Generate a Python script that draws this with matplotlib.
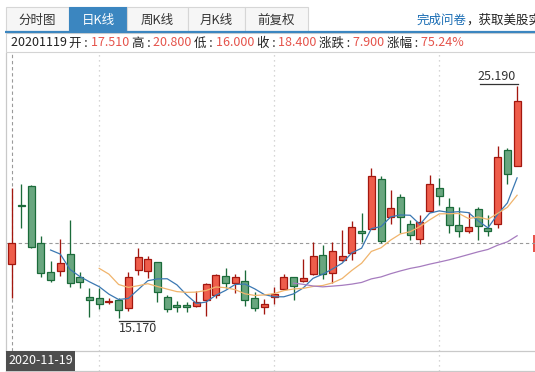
import matplotlib
matplotlib.use("Agg")
import matplotlib.pyplot as plt
from matplotlib.patches import Rectangle
from matplotlib.transforms import offset_copy
import pandas as pd

plt.rcParams['font.family'] = ['Noto Sans CJK SC', 'DejaVu Sans']

# ---- data (daily K, starting 2020-11-19) ----
first_date = "2020-11-19"
opens = [17.51, 20.05, 20.87, 18.39, 17.13, 17.19, 17.91, 16.94, 16.05, 16.01,
         15.84, 15.93, 15.58, 17.23, 17.20, 17.57, 16.05, 15.71, 15.71, 15.68,
         15.93, 16.13, 16.99, 16.66, 16.74, 16.00, 15.62, 16.06, 16.40, 16.92,
         16.74, 17.08, 17.90, 17.09, 17.65, 17.97, 18.93, 18.99, 21.16, 19.51,
         20.38, 19.21, 18.56, 19.77, 20.77, 19.94, 19.17, 18.92, 19.86, 19.04,
         19.21, 22.42, 21.72]
highs = [20.80, 20.95, 20.90, 18.70, 17.62, 18.56, 19.39, 17.16, 16.44, 16.44,
         16.03, 16.01, 17.15, 18.20, 17.85, 17.58, 16.15, 15.90, 15.84, 16.34,
         16.69, 17.07, 17.31, 17.05, 17.22, 16.26, 15.96, 16.51, 17.05, 16.93,
         17.70, 18.46, 18.31, 18.46, 18.96, 19.36, 19.70, 21.63, 21.28, 20.69,
         20.51, 19.39, 19.61, 21.33, 21.21, 20.33, 19.96, 19.75, 19.94, 19.61,
         22.58, 22.52, 25.19]
lows = [16.00, 19.05, 18.18, 16.92, 16.71, 16.97, 16.48, 16.47, 15.20, 15.53,
        15.76, 15.17, 15.45, 17.02, 16.89, 15.84, 15.43, 15.43, 15.43, 15.65,
        15.24, 16.04, 16.45, 16.22, 15.68, 15.48, 15.32, 15.76, 16.37, 15.93,
        16.73, 17.03, 16.83, 16.66, 17.64, 17.66, 18.46, 18.99, 18.39, 19.22,
        18.85, 18.53, 18.35, 19.75, 20.04, 18.82, 18.66, 18.82, 18.53, 18.70,
        19.04, 20.96, 21.72]
closes = [18.40, 19.98, 18.21, 17.09, 16.80, 17.52, 16.66, 16.70, 15.93, 15.75,
          15.90, 15.50, 16.94, 17.81, 17.69, 16.30, 15.53, 15.62, 15.62, 15.85,
          16.61, 17.00, 16.66, 16.92, 15.93, 15.58, 15.75, 16.19, 16.92, 16.56,
          16.87, 17.82, 17.08, 18.05, 17.82, 19.11, 18.82, 21.31, 18.49, 19.93,
          19.52, 18.75, 19.32, 20.94, 20.42, 19.18, 18.92, 19.11, 19.14, 18.92,
          22.13, 21.37, 24.53]
ma_windows = [5, 10, 30]
grid_idx = [9, 27, 44]          # month grid lines
cross_idx = 0                   # crosshair on first bar

tab_labels = ["分时图", "日K线", "周K线", "月K线", "前复权"]
active_tab = 1
info_date = "20201119"
info_fields = ["开", "高", "低", "收", "涨跌", "涨幅"]
info_values = ["17.510", "20.800", "16.000", "18.400", "7.900", "75.24%"]
survey_link = "完成问卷"
survey_rest = "，获取美股实"

# ---- colours ----
UP_FACE, UP_EDGE = "#ee5d4b", "#a3170f"
DN_FACE, DN_EDGE = "#69a67f", "#1b6b3a"
MA_COLORS = ["#3b78b2", "#f0b46c", "#a67cbf"]
BLUE = "#3b86c0"
RED_TXT = "#e5534b"
GRID = "#c9c9c9"

W, H = 535, 372
fig = plt.figure(figsize=(W / 100, H / 100), dpi=100)

# overlay in pixel coordinates for header widgets
ov = fig.add_axes([0, 0, 1, 1], zorder=0)
ov.set_xlim(0, W)
ov.set_ylim(H, 0)
ov.axis("off")

# tabs
tab_edges = [6, 69, 127.3, 187.7, 245, 307.7]
for k, lab in enumerate(tab_labels):
    x0, x1 = tab_edges[k], tab_edges[k + 1]
    act = k == active_tab
    ov.add_patch(Rectangle((x0, 6.5), x1 - x0, 25.5,
                           facecolor=BLUE if act else "#f6f6f6",
                           edgecolor=BLUE if act else "#d6d6d6", lw=0.8))
    ov.text((x0 + x1) / 2, 20.5, lab, ha="center", va="center", fontsize=9,
            color="white" if act else "#333333")
ov.plot([5, W], [32.3, 32.3], color=BLUE, lw=1.6, solid_capstyle="butt")

t1 = ov.text(416.5, 19.8, survey_link, ha="left", va="center", fontsize=9,
             color="#1a6db4")
fig.canvas.draw()
r = fig.canvas.get_renderer()
ov.text(416.5 + t1.get_window_extent(r).width, 19.8, survey_rest,
        ha="left", va="center", fontsize=9, color="#222222")

# info row
ov.add_patch(Rectangle((5.7, 33.3), W, 19, facecolor="white",
                       edgecolor="#d4d4d4", lw=0.8))
pieces = [(info_date + " ", "#222222")]
for f, v in zip(info_fields, info_values):
    pieces.append((f + " : ", "#222222"))
    pieces.append((v + " ", RED_TXT))
x = 10.7
for s, col in pieces:
    t = ov.text(x, 43, s, ha="left", va="center", fontsize=9, color=col)
    x += t.get_window_extent(r).width

# crosshair price tag stub at right edge
ov.add_patch(Rectangle((532.5, 235), 4, 17, facecolor="#e8534a", lw=0))

# ---- main K-line axes ----
px_left, px_top, px_bot = 5.7, 53, 351
ax = fig.add_axes([px_left / W, (H - px_bot) / H, (W - px_left) / W,
                   (px_bot - px_top) / H], zorder=1)
ax.patch.set_visible(False)
x_lo, x_hi = -0.617, 53.84
ax.set_xlim(x_lo, x_hi)
ax.set_ylim(13.729, 26.618)
for side in ["top", "right"]:
    ax.spines[side].set_visible(False)
for side in ["left", "bottom"]:
    ax.spines[side].set_color(GRID)
    ax.spines[side].set_linewidth(0.9)
ax.set_xticks([])
ax.set_yticks([])

for g in grid_idx:
    ax.axvline(g, color=GRID, lw=0.9, ls=(0, (1, 3)), zorder=0)
ax.axvline(cross_idx, color="#9a9a9a", lw=0.8, ls=(0, (3, 2.5)), zorder=0)
ax.axhline(closes[cross_idx], color="#9a9a9a", lw=0.8, ls=(0, (3, 2.5)),
           zorder=0)

bw = 0.72
for i, (o, h, l, c) in enumerate(zip(opens, highs, lows, closes)):
    up = c >= o
    face = UP_FACE if up else DN_FACE
    edge = UP_EDGE if up else DN_EDGE
    ax.vlines(i, l, h, color=edge, lw=0.95, zorder=2)
    ax.add_patch(Rectangle((i - bw / 2, min(o, c)), bw,
                           max(abs(c - o), 0.03), facecolor=face,
                           edgecolor=edge, lw=0.9, zorder=3))

close_s = pd.Series(closes)
for w, col in zip(ma_windows, MA_COLORS):
    ax.plot(close_s.index, close_s.rolling(w).mean(), color=col, lw=0.9,
            zorder=4)

# max / min labels
hi_i = max(range(len(highs)), key=lambda k: highs[k])
lo_i = min(range(len(lows)), key=lambda k: lows[k])
tr_up = offset_copy(ax.transData, fig=fig, x=0, y=2, units="dots")
ax.plot([hi_i - 3.8, hi_i + 0.1], [highs[hi_i]] * 2, transform=tr_up,
        color="#333333", lw=0.9)
ax.text(hi_i - 0.1, highs[hi_i], f"{highs[hi_i]:.3f}", ha="right",
        va="bottom", fontsize=9, color="#333333",
        transform=offset_copy(ax.transData, fig=fig, x=0, y=3, units="dots"))
tr_dn = offset_copy(ax.transData, fig=fig, x=0, y=-3, units="dots")
ax.plot([lo_i, lo_i + 3.65], [lows[lo_i]] * 2, transform=tr_dn,
        color="#333333", lw=0.9)
ax.text(lo_i + 0.05, lows[lo_i], f"{lows[lo_i]:.3f}", ha="left", va="top",
        fontsize=9, color="#333333",
        transform=offset_copy(ax.transData, fig=fig, x=0, y=-4, units="dots"))

# ---- date strip ----
ax2 = fig.add_axes([px_left / W, 1 / H, (W - px_left) / W, 20 / H], zorder=1)
ax2.patch.set_visible(False)
ax2.set_xlim(x_lo, x_hi)
ax2.set_ylim(0, 1)
ax2.set_xticks([])
ax2.set_yticks([])
for side in ["top", "right"]:
    ax2.spines[side].set_visible(False)
for side in ["left", "bottom"]:
    ax2.spines[side].set_color(GRID)
    ax2.spines[side].set_linewidth(0.9)
for g in grid_idx:
    ax2.axvline(g, color=GRID, lw=0.9, ls=(0, (1, 3)), zorder=0)
ax2.axvline(cross_idx, color="#9a9a9a", lw=0.8, ls=(0, (3, 2.5)), zorder=0)
box_w = (75 - px_left) / (W - px_left)
ax2.add_patch(Rectangle((0, 0.02), box_w, 0.98, transform=ax2.transAxes,
                        facecolor="#4e4e4e", lw=0, zorder=10))
ax2.text(box_w / 2, 0.5, first_date, transform=ax2.transAxes, ha="center",
         va="center", fontsize=9, color="white", zorder=11)

fig.savefig("out.png", dpi=100)
